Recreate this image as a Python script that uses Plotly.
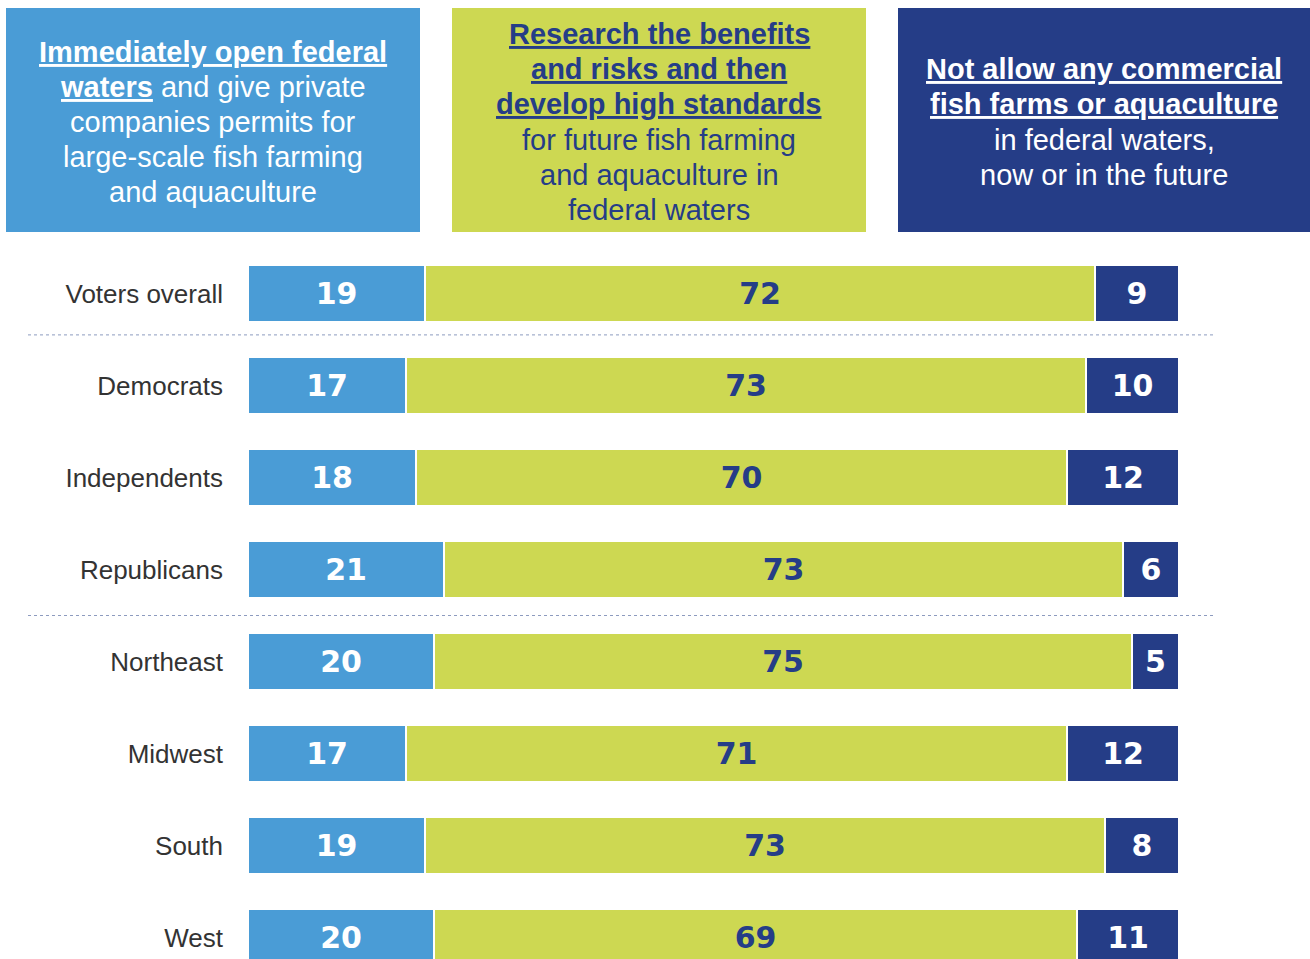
import plotly.graph_objects as go

categories = ["Voters overall", "Democrats", "Independents", "Republicans",
              "Northeast", "Midwest", "South", "West"]
open_now = [19, 17, 18, 21, 20, 17, 19, 20]
research_first = [72, 73, 70, 73, 75, 71, 73, 69]
not_allow = [9, 10, 12, 6, 5, 12, 8, 11]
separators = [0.45, 3.5]

BLUE = "#4A9CD6"
GREEN = "#CDD852"
NAVY = "#253D87"
W, H = 1310, 959
FONT = "Liberation Sans, Arial, sans-serif"
NUMFONT = "DejaVu Sans, Arial Black, sans-serif"

fig = go.Figure()
series = [
    (open_now, BLUE, "white"),
    (research_first, GREEN, NAVY),
    (not_allow, NAVY, "white"),
]
for vals, col, tcol in series:
    fig.add_trace(go.Bar(
        y=categories, x=vals, orientation="h",
        marker=dict(color=col, line=dict(color="white", width=2)),
        width=0.62,
        text=vals, texttemplate="<b>%{text}</b>",
        textposition="inside", insidetextanchor="middle", textangle=0,
        textfont=dict(family=NUMFONT, size=30, color=tcol),
        hoverinfo="skip", showlegend=False,
    ))

# header boxes
boxes = [(6, 420, BLUE), (452, 866, GREEN), (898, 1310, NAVY)]
for x0, x1, col in boxes:
    fig.add_shape(type="rect", xref="paper", yref="paper",
                  x0=x0 / W, x1=x1 / W, y0=1 - 232 / H, y1=1 - 8 / H,
                  fillcolor=col, line=dict(width=0), layer="below")

headers = [
    (213, "white", [
        ("<b><u>Immediately open federal</u></b>", 52),
        ("<b><u>waters</u></b> and give private", 87),
        ("companies permits for", 122),
        ("large-scale fish farming", 157),
        ("and aquaculture", 192),
    ]),
    (659, NAVY, [
        ("<b><u>Research the benefits</u></b>", 34),
        ("<b><u>and risks and then</u></b>", 69),
        ("<b><u>develop high standards</u></b>", 104),
        ("for future fish farming", 140),
        ("and aquaculture in", 175),
        ("federal waters", 210),
    ]),
    (1104, "white", [
        ("<b><u>Not allow any commercial</u></b>", 69),
        ("<b><u>fish farms or aquaculture</u></b>", 104),
        ("in federal waters,", 140),
        ("now or in the future", 175),
    ]),
]
for cx, col, lines in headers:
    for txt, py in lines:
        fig.add_annotation(xref="paper", yref="paper", x=cx / W, y=1 - py / H,
                           text=txt, showarrow=False, xanchor="center",
                           yanchor="middle",
                           font=dict(family=FONT, size=29, color=col))

# dotted separators
for yv in separators:
    fig.add_shape(type="line", xref="paper", yref="y",
                  x0=28 / W, x1=1213 / W, y0=yv, y1=yv,
                  line=dict(color="#8D9BBF", width=1, dash="dot"))

r_top = -293.5 / 92
r_bot = r_top + H / 92
fig.update_layout(
    width=W, height=H, barmode="stack", bargap=0,
    margin=dict(l=0, r=0, t=0, b=0),
    paper_bgcolor="white", plot_bgcolor="white",
    xaxis=dict(domain=[248 / W, 1179 / W], range=[0, 100], visible=False,
               fixedrange=True),
    yaxis=dict(range=[r_bot, r_top], showgrid=False, zeroline=False,
               showline=False, ticks="", ticklabelstandoff=24, fixedrange=True,
               tickfont=dict(family=FONT, size=26, color="#333333")),
)
fig.write_html("out.html", config={"displayModeBar": False},
               post_script="document.body.style.margin='0';document.body.style.overflow='hidden';")
